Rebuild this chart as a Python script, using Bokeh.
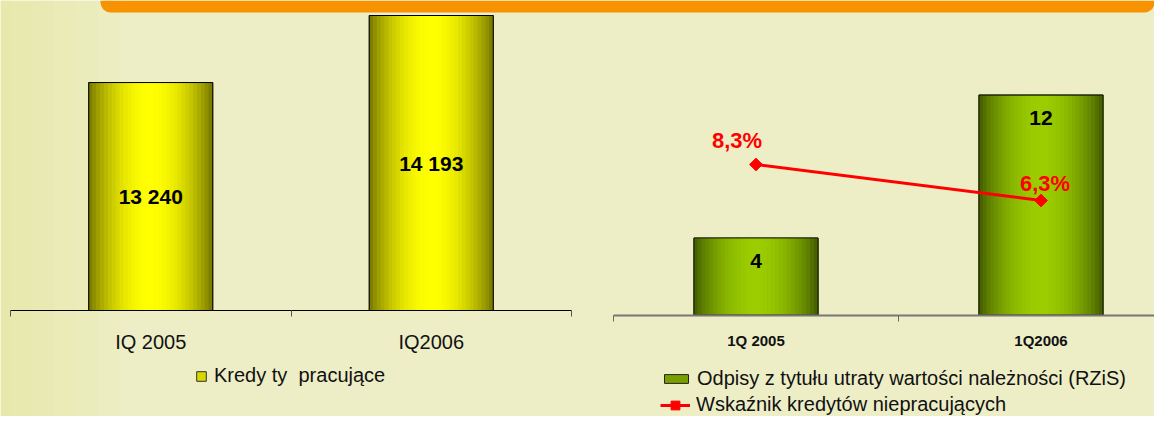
import numpy as np
from bokeh.plotting import figure
from bokeh.models import (Range1d, LinearAxis, FixedTicker, ColumnDataSource,
                          BoxAnnotation, Legend, LegendItem)
from bokeh.core.properties import value
from bokeh.embed import file_html
from bokeh.resources import INLINE

# ---------------- data ----------------
loan_periods = ["IQ 2005", "IQ2006"]
performing_loans = [13240, 14193]
loan_series_name = "Kredy ty  pracujące"

charge_periods = ["1Q 2005", "1Q2006"]
impairment_charges = [4.2, 12.0]
npl_ratio = [8.3, 6.3]
charge_series_name = "Odpisy z tytułu utraty wartości należności (RZiS)"
npl_series_name = "Wskaźnik kredytów niepracujących"

# ---------------- layout (pixels) ----------------
W, H = 1154, 416
BG = "#EDEEC6"
FONT = "Liberation Sans"

# left chart geometry
L_X0, L_CAT = 10.0, 280.5          # frame px of first category start, px per category
L_BASE, L_Y0, L_PX = 310.0, 10000.0, 0.070355   # baseline px, axis start value, px per unit
L_BW = 0.442
# right chart geometry
R_X0, R_CAT = 613.0, 285.0
R_BASE, R_PX = 314.5, 18.33       # bars
RL_BASE, RL_PX = 313.4, 18.0      # line (secondary scale)
R_BW = 0.435


def lx(px):
    return (px - L_X0) / L_CAT


def ly(py):
    return L_Y0 + (L_BASE - py) / L_PX


p = figure(width=W, height=H, output_backend="svg", toolbar_location=None,
           x_axis_type=None, y_axis_type=None, min_border=0,
           x_range=Range1d(-L_X0 / L_CAT, (W - L_X0) / L_CAT),
           y_range=Range1d(L_Y0 - (H - L_BASE) / L_PX, L_Y0 + L_BASE / L_PX),
           background_fill_color=BG, border_fill_color=BG,
           outline_line_color=None)
p.extra_x_ranges = {"r": Range1d(-R_X0 / R_CAT, (W - R_X0) / R_CAT)}
p.extra_y_ranges = {"rb": Range1d(-(H - R_BASE) / R_PX, R_BASE / R_PX),
                    "rl": Range1d(-(H - RL_BASE) / RL_PX, RL_BASE / RL_PX)}

# subtle background tint toward the left edge
for i in range(6):
    p.add_layout(BoxAnnotation(right=lx(10 + i * 22), fill_color="#E2E27A",
                               fill_alpha=0.07, line_color=None, level="underlay"))

# orange header band
p.add_layout(BoxAnnotation(left=lx(100), bottom=ly(12), fill_color="#F79200",
                           fill_alpha=1.0, line_color=None,
                           border_radius=dict(top_left=0, top_right=0,
                                              bottom_right=10, bottom_left=10)))


def hexc(c):
    return "#%02x%02x%02x" % tuple(int(round(v)) for v in c)


def gradient_strips(xs, tops, bottom, width, dark, bright, n=32):
    rows = dict(x=[], top=[], bottom=[], w=[], color=[])
    for x, t in zip(xs, tops):
        for j in range(n):
            u = (j + 0.5) / n
            d = abs(2 * u - 1)
            f = np.cos(d * np.pi / 2) ** 0.8
            c = [a + (b - a) * f for a, b in zip(dark, bright)]
            rows["x"].append(x - width / 2 + u * width)
            rows["top"].append(t)
            rows["bottom"].append(bottom)
            rows["w"].append(width / n * 1.12)
            rows["color"].append(hexc(c))
    return ColumnDataSource(rows)


# ---------------- left chart ----------------
lxs = [i + 0.5 for i in range(len(loan_periods))]
base_l = p.vbar(x=lxs, top=performing_loans, bottom=L_Y0, width=L_BW,
                fill_color="#d8d800", line_color="#333333", line_width=1)
p.vbar(x="x", top="top", bottom="bottom", width="w", fill_color="color",
       line_color=None,
       source=gradient_strips(lxs, performing_loans, L_Y0, L_BW,
                              (112, 112, 0), (255, 255, 0)))
p.vbar(x=lxs, top=performing_loans, bottom=L_Y0, width=L_BW, fill_alpha=0,
       line_color="black", line_width=1)
p.text(x=lxs, y=[(L_Y0 + v) / 2 for v in performing_loans],
       text=[f"{v:,}".replace(",", " ") for v in performing_loans],
       text_font=value(FONT), text_font_style="bold", text_font_size="21px",
       text_align="center", text_baseline="middle", text_color="black")

ax_l = LinearAxis(fixed_location=L_Y0, bounds=(0, len(loan_periods)),
                  ticker=FixedTicker(ticks=lxs,
                                     minor_ticks=list(range(len(loan_periods) + 1))),
                  major_label_overrides={x: lab for x, lab in zip(lxs, loan_periods)})
ax_l.axis_line_color = "black"
ax_l.axis_line_width = 1
ax_l.major_tick_in = 0
ax_l.major_tick_out = 0
ax_l.minor_tick_in = 0
ax_l.minor_tick_out = 6
ax_l.minor_tick_line_color = "#555555"
ax_l.major_label_text_font = FONT
ax_l.major_label_text_font_size = "20px"
ax_l.major_label_text_color = "#111111"
ax_l.major_label_standoff = 14
p.add_layout(ax_l, "below")

p.add_layout(Legend(items=[LegendItem(label=loan_series_name, renderers=[base_l])],
                    location=(195, 29), glyph_width=12, glyph_height=12,
                    label_standoff=7, label_text_font=FONT,
                    label_text_font_size="20px", label_text_color="#111111",
                    label_height=20, padding=0,
                    margin=0, spacing=0, border_line_color=None,
                    background_fill_alpha=0))

# ---------------- right chart ----------------
rxs = [i + 0.5 for i in range(len(charge_periods))]
base_r = p.vbar(x=rxs, top=impairment_charges, bottom=0, width=R_BW,
                fill_color="#7aa000", line_color="#222222", line_width=1,
                x_range_name="r", y_range_name="rb")
p.vbar(x="x", top="top", bottom="bottom", width="w", fill_color="color",
       line_color=None, x_range_name="r", y_range_name="rb",
       source=gradient_strips(rxs, impairment_charges, 0, R_BW,
                              (64, 88, 0), (155, 205, 0)))
p.vbar(x=rxs, top=impairment_charges, bottom=0, width=R_BW, fill_alpha=0,
       line_color="#1e2600", line_width=1.2, x_range_name="r", y_range_name="rb")
p.text(x=rxs, y=impairment_charges, y_offset=23,
       text=[f"{v:.0f}" for v in impairment_charges],
       text_font=value(FONT), text_font_style="bold", text_font_size="21px",
       text_align="center", text_baseline="middle", text_color="black",
       x_range_name="r", y_range_name="rb")

line_r = p.line(x=rxs, y=npl_ratio, line_color="#FF0000", line_width=3,
                x_range_name="r", y_range_name="rl")
scat_r = p.scatter(x=rxs, y=npl_ratio, marker="square", angle=np.pi / 4, size=9,
                   fill_color="#FF0000", line_color="#FF0000",
                   x_range_name="r", y_range_name="rl")
npl_src = ColumnDataSource(dict(
    x=rxs, y=npl_ratio,
    t=[f"{v:.1f}".replace(".", ",") + "%" for v in npl_ratio],
    dx=[-19, 4], dy=[-24, -17]))
p.text(x="x", y="y", text="t", x_offset="dx", y_offset="dy", source=npl_src,
       text_font=value(FONT), text_font_style="bold", text_font_size="22px",
       text_align="center", text_baseline="middle", text_color="#FF0000",
       x_range_name="r", y_range_name="rl")

ax_r = LinearAxis(x_range_name="r", y_range_name="rb", fixed_location=0,
                  bounds=(0, len(charge_periods)),
                  ticker=FixedTicker(ticks=rxs,
                                     minor_ticks=list(range(len(charge_periods) + 1))),
                  major_label_overrides={x: lab for x, lab in zip(rxs, charge_periods)})
ax_r.axis_line_color = "#777777"
ax_r.axis_line_width = 2
ax_r.major_tick_in = 0
ax_r.major_tick_out = 0
ax_r.minor_tick_in = 0
ax_r.minor_tick_out = 6
ax_r.minor_tick_line_color = "#666666"
ax_r.major_label_text_font = FONT
ax_r.major_label_text_font_size = "15px"
ax_r.major_label_text_font_style = "bold"
ax_r.major_label_text_color = "#111111"
ax_r.major_label_standoff = 11
p.add_layout(ax_r, "below")

common = dict(label_standoff=6, label_text_font=FONT, label_text_font_size="20px",
              label_text_color="#111111",
              label_height=22, padding=0, margin=0, spacing=0,
              border_line_color=None, background_fill_alpha=0, glyph_width=30)
p.add_layout(Legend(items=[LegendItem(label=charge_series_name, renderers=[base_r])],
                    location=(661, 26), glyph_height=11, **common))
p.add_layout(Legend(items=[LegendItem(label=npl_series_name, renderers=[line_r, scat_r])],
                    location=(660, 0), glyph_height=22, **common))

open("out.html", "w").write(file_html(p, INLINE))
